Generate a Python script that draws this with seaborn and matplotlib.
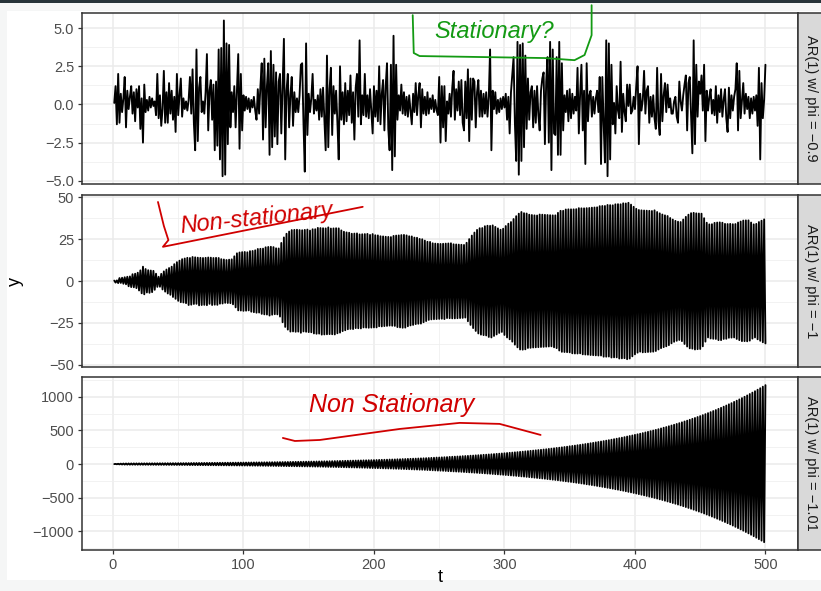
import numpy as np
import pandas as pd
import matplotlib
matplotlib.use("Agg")
import matplotlib.pyplot as plt
from matplotlib.patches import Rectangle
from matplotlib.ticker import FixedLocator, FuncFormatter
import seaborn as sns

# ---- data -------------------------------------------------------------
t = list(range(1, 501))

panel_labels = ["AR(1) w/ phi = \u22120.9", "AR(1) w/ phi = \u22121", "AR(1) w/ phi = \u22121.01"]

y_phi_09 = [
    0.1, 1.2, -1.3, 2.0, -1.2, 0.7, -0.5, 0.4, 1.8, -1.5,
    0.9, -0.3, 0.5, 1.2, -0.6, 0.8, -1.1, 1.0, -0.2, 1.2,
    -1.6, 0.4, -2.5, 1.3, -0.5, 0.3, -0.4, 0.5, -0.2, 0.4,
    -0.1, 0.2, -0.7, 2.0, -0.9, 0.6, -1.4, -0.3, 2.2, -1.2,
    0.8, -1.2, 1.4, -0.6, 0.9, -1.0, 0.5, -1.8, 2.0, -0.7,
    0.6, 1.7, -0.8, 0.4, -0.3, 0.2, -0.4, 0.3, 1.8, -0.6,
    2.3, -1.2, -3.0, 3.6, -2.4, 1.1, 1.8, -0.5, 0.2, -0.6,
    0.8, 3.3, -1.7, 0.9, 1.6, -1.0, 1.3, -3.0, 1.5, -2.7,
    3.6, -3.6, 3.7, -4.7, 5.5, -4.6, 4.0, -2.6, 3.9, -1.5,
    0.8, -0.5, 1.2, -1.5, 0.9, 3.3, -2.9, 2.0, -1.7, 0.6,
    -0.4, 0.5, -0.3, 0.4, -0.5, 0.3, -0.2, 0.5, -0.4, -1.0,
    1.0, -0.6, 1.2, 2.7, -2.3, 3.0, -1.5, 1.2, 2.7, -3.3,
    3.5, -2.8, 2.6, -2.1, 2.1, -2.6, 1.5, 2.0, -1.9, 1.2,
    4.3, -3.6, 0.9, 2.0, -1.5, 0.6, 1.8, -1.4, 0.8, -0.5,
    0.4, -0.5, 0.6, 2.6, 2.7, -1.2, -4.4, 4.0, -2.0, 0.7,
    -0.5, 0.4, 2.0, -0.6, 0.3, -0.4, 0.6, -1.0, 1.0, -0.8,
    1.1, -0.9, -3.0, 3.2, -2.8, 1.0, 2.4, -2.0, 1.2, -0.6,
    0.9, -1.2, -3.6, 2.5, -1.0, 0.8, -1.3, 1.4, -1.1, 0.9,
    -0.7, 1.9, -1.2, 0.8, -2.3, 1.1, 2.0, -0.8, 4.2, -1.3,
    0.6, -0.7, 2.0, -0.8, 0.6, -0.9, 1.0, -0.5, -1.9, 1.2,
    -0.8, 0.9, -1.1, 2.5, -1.3, 0.7, 1.6, -1.7, 1.2, 2.7,
    -1.6, -3.0, 2.6, -4.3, 4.5, -3.4, 2.6, -1.0, 0.6, -0.4,
    1.3, -0.6, 0.8, -0.7, 0.5, -0.8, 0.6, -0.4, -1.3, 0.7,
    -0.5, 1.4, -0.7, 0.6, 1.4, -1.5, 1.0, -0.6, 0.5, -0.7,
    0.8, -0.6, 0.4, -0.3, 0.6, -0.5, 0.3, -0.4, -0.7, 1.8,
    -2.5, 1.2, -1.5, 1.2, -2.4, 0.2, -0.6, 0.7, -0.8, 1.1,
    2.2, -1.0, 1.0, -0.4, 1.5, -0.7, 1.6, -1.2, -1.7, 1.5,
    -0.9, 2.3, -2.4, 1.7, -1.0, 1.7, 1.5, -1.5, 0.8, 1.6,
    -0.8, 0.9, -0.8, 0.7, -0.6, 0.8, -0.8, 0.5, 3.6, -3.0,
    0.9, -0.3, 0.8, -0.6, 0.3, -0.5, 0.4, -0.3, 0.5, -0.2,
    0.7, -1.0, 0.5, -1.9, 0.8, 2.0, 3.1, -1.2, -3.7, 4.1,
    -4.6, 3.9, -3.7, 4.0, -2.8, 3.2, -1.6, 1.7, -1.0, 0.8,
    1.2, -1.5, 0.9, -1.2, 1.2, -0.7, -1.7, 0.9, 1.7, 2.1,
    -2.6, 1.5, 3.1, -2.5, 4.1, -4.3, 3.6, -1.9, -2.0, 3.1,
    -3.3, 4.1, -3.3, 2.7, -1.7, 0.6, -0.5, 0.9, -1.1, 1.0,
    -0.9, 0.7, -0.6, 0.5, -0.4, 2.4, -1.9, 0.7, 2.6, -1.7,
    0.9, -3.9, 2.7, -1.1, 0.6, 0.9, -0.8, 0.5, -0.6, 0.4,
    0.9, -0.5, 1.8, -3.9, 1.8, -1.2, -3.8, 4.2, -4.7, 4.0,
    -3.6, 2.6, -1.3, 0.1, -1.9, 1.2, -0.4, -0.9, 2.8, -1.8,
    0.7, -0.5, -1.1, 1.3, -0.1, 1.3, -0.6, -0.4, 0.5, -0.3,
    1.2, 2.5, -2.6, 0.7, -0.4, 0.3, 2.2, -0.6, 0.9, 1.2,
    -1.2, 0.5, -0.8, 0.6, -0.9, -1.6, 2.4, -1.1, -2.0, 2.0,
    -1.1, 0.6, 1.4, -0.5, 1.3, -0.2, 0.4, -0.6, -0.6, 0.2,
    0.5, -0.8, -1.2, 1.5, 0.2, -0.4, 0.6, 1.3, 1.9, -1.7,
    1.4, 1.8, -0.7, -3.2, 4.2, -2.6, 2.6, -0.8, 1.5, 0.7,
    1.9, -0.4, 2.6, -2.4, 0.9, -0.4, 0.5, 1.0, -0.6, 0.3,
    -0.7, 1.2, -1.2, 0.6, -0.5, 1.0, -0.8, 0.3, 1.0, -0.9,
    -1.8, 1.1, -0.9, 0.6, -0.4, 0.5, 1.0, 2.7, -1.7, 2.2,
    -0.9, 0.3, 1.4, -0.6, 0.7, -0.3, 0.5, -0.9, 0.4, -0.6,
    0.5, -0.4, 0.6, -1.4, 2.4, -3.6, 1.4, -0.9, 0.3, 2.6,
]

y_phi_1 = [
    0.3, -0.9, 0.4, -1.2, 1.8, -1.1, 2.0, -1.6, 2.3, -1.9,
    2.6, -3.1, 2.8, -3.6, 4.1, -3.7, 4.4, -4.2, 5.0, -5.6,
    6.4, -7.3, 8.6, -7.9, 7.2, -6.8, 6.5, -7.0, 6.3, -6.6,
    6.1, -5.2, 4.4, -3.5, 2.6, -3.4, 4.3, -5.0, 5.8, -6.3,
    6.9, -7.4, 7.8, -8.2, 8.6, -9.5, 10.1, -10.6, 11.3, -11.8,
    12.2, -12.6, 13.1, -12.8, 13.5, -13.2, 13.9, -14.3, 13.8, -14.1,
    14.4, -13.7, 14.2, -13.6, 14.0, -14.5, 13.9, -14.3, 13.8, -14.2,
    13.9, -14.4, 14.1, -13.6, 14.0, -14.3, 13.8, -14.1, 13.9, -14.2,
    13.8, -13.5, 13.1, -13.4, 12.9, -13.0, 12.6, -13.1, 12.8, -13.2,
    13.0, -13.9, 14.8, -15.7, 16.6, -17.5, 17.1, -17.6, 17.3, -17.8,
    17.4, -17.7, 17.2, -17.5, 17.9, -18.3, 18.0, -18.6, 18.4, -18.9,
    19.2, -18.8, 19.3, -19.6, 19.4, -19.9, 20.2, -20.0, 20.4, -20.6,
    20.5, -20.1, 20.3, -19.8, 19.6, -19.9, 19.5, -21.2, 22.8, -24.6,
    26.1, -27.4, 28.3, -29.0, 29.6, -30.2, 30.5, -30.1, 30.6, -30.3,
    30.7, -30.2, 30.5, -30.9, 30.4, -30.1, 30.6, -30.3, 30.8, -30.5,
    30.2, -30.6, 31.0, -31.3, 31.0, -31.5, 31.8, -31.4, 31.7, -32.0,
    31.6, -31.9, 31.5, -31.8, 32.1, -31.7, 31.4, -31.8, 31.5, -31.9,
    31.6, -31.2, 31.5, -30.8, 30.3, -29.9, 29.5, -29.4, 29.1, -28.8,
    28.9, -28.6, 28.3, -28.7, 28.4, -28.1, 28.5, -28.2, 27.9, -28.3,
    28.0, -27.7, 28.1, -27.8, 28.2, -27.9, 27.6, -27.8, 28.1, -27.7,
    27.4, -27.7, 27.3, -27.0, 26.8, -27.1, 26.7, -26.9, 26.5, -26.8,
    26.4, -26.6, 26.3, -26.7, 27.0, -26.8, 27.2, -27.5, 27.3, -27.7,
    27.5, -27.9, 27.6, -27.8, 27.3, -27.0, 26.8, -26.5, 26.7, -26.2,
    26.0, -25.7, 25.9, -25.5, 25.2, -25.4, 25.0, -24.6, 24.2, -23.9,
    23.5, -23.2, 23.4, -22.9, 22.6, -22.8, 22.4, -22.7, 22.3, -22.6,
    22.2, -22.5, 22.3, -22.7, 22.4, -22.1, 22.5, -22.2, 22.6, -22.3,
    22.0, -22.3, 21.9, -22.2, 21.8, -22.1, 21.7, -22.0, 21.6, -21.8,
    22.9, -24.0, 25.1, -26.2, 27.2, -28.1, 29.0, -29.8, 30.6, -31.3,
    31.6, -32.0, 31.7, -32.3, 32.8, -32.5, 33.1, -33.4, 33.0, -33.7,
    33.3, -32.8, 32.4, -31.9, 31.5, -31.0, 30.7, -30.4, 31.3, -32.2,
    32.9, -33.7, 34.3, -34.8, 35.3, -36.2, 37.1, -38.0, 38.8, -39.6,
    40.3, -40.9, 41.3, -41.0, 40.6, -40.8, 40.4, -40.0, 39.7, -39.9,
    39.5, -39.7, 39.3, -39.6, 39.2, -39.5, 39.8, -39.4, 39.7, -39.3,
    39.6, -39.2, 39.5, -39.1, 39.4, -39.0, 39.3, -39.6, 39.3, -40.1,
    40.8, -41.5, 42.0, -42.3, 42.0, -42.4, 42.8, -42.5, 42.9, -42.6,
    42.9, -43.2, 42.9, -43.3, 43.0, -43.3, 43.6, -43.2, 43.5, -43.8,
    43.5, -43.9, 43.6, -44.0, 43.7, -44.2, 43.9, -44.3, 44.0, -44.4,
    44.1, -44.5, 44.8, -44.5, 44.9, -45.2, 44.9, -45.2, 45.5, -45.1,
    45.4, -45.7, 45.3, -45.6, 45.9, -45.6, 46.0, -46.3, 45.9, -46.2,
    46.5, -46.1, 46.4, -46.7, 46.8, -46.3, 45.7, -45.0, 44.4, -43.8,
    43.2, -42.8, 42.5, -42.2, 42.3, -42.6, 42.2, -42.5, 42.1, -42.4,
    42.0, -42.3, 41.9, -42.2, 42.3, -41.8, 41.3, -40.9, 40.5, -40.1,
    39.8, -39.5, 39.3, -39.0, 38.9, -38.3, 37.7, -37.2, 36.8, -36.3,
    36.0, -35.7, 35.5, -35.2, 35.3, -35.9, 36.8, -37.6, 38.4, -39.1,
    39.7, -40.2, 40.6, -40.4, 40.8, -40.9, 40.5, -40.7, 40.4, -40.6,
    40.3, -39.0, 37.6, -36.2, 34.9, -33.7, 33.9, -34.3, 34.0, -34.5,
    34.8, -34.6, 35.0, -35.3, 35.1, -35.3, 34.9, -34.6, 34.2, -34.5,
    34.1, -33.9, 34.2, -33.8, 34.0, -33.7, 34.1, -34.6, 35.0, -35.3,
    35.6, -35.9, 36.2, -35.9, 36.3, -36.0, 36.3, -35.6, 35.0, -34.4,
    33.9, -33.7, 34.2, -34.8, 35.3, -35.7, 36.1, -36.6, 36.9, -37.3,
]

y_phi_101 = [
    -0.6, 1.8, -2.9, 4.1, -5.2, 6.0, -6.9, 7.5, -8.0, 8.4,
    -8.6, 8.9, -9.1, 9.2, -9.4, 9.5, -9.6, 9.7, -9.8, 9.9,
    -10.0, 10.1, -10.2, 10.3, -10.4, 10.5, -10.6, 10.7, -10.8, 10.9,
    -11.0, 11.1, -11.3, 11.4, -11.5, 11.6, -11.7, 11.8, -11.9, 12.1,
    -12.2, 12.3, -12.4, 12.5, -12.7, 12.8, -12.9, 13.1, -13.2, 13.3,
    -13.5, 13.6, -13.7, 13.9, -14.0, 14.1, -14.3, 14.4, -14.6, 14.7,
    -14.9, 15.0, -15.2, 15.3, -15.5, 15.6, -15.8, 15.9, -16.1, 16.3,
    -16.4, 16.6, -16.8, 16.9, -17.1, 17.3, -17.4, 17.6, -17.8, 18.0,
    -18.1, 18.3, -18.5, 18.7, -18.9, 19.1, -19.3, 19.5, -19.6, 19.8,
    -20.0, 20.2, -20.4, 20.6, -20.8, 21.1, -21.3, 21.5, -21.7, 21.9,
    -22.1, 22.4, -22.6, 22.8, -23.0, 23.3, -23.5, 23.7, -24.0, 24.2,
    -24.4, 24.7, -24.9, 25.2, -25.4, 25.7, -25.9, 26.2, -26.5, 26.7,
    -27.0, 27.3, -27.5, 27.8, -28.1, 28.4, -28.7, 29.0, -29.2, 29.5,
    -29.8, 30.1, -30.4, 30.7, -31.0, 31.4, -31.7, 32.0, -32.3, 32.6,
    -32.9, 33.3, -33.6, 33.9, -34.3, 34.6, -35.0, 35.3, -35.7, 36.0,
    -36, 37, -37, 37, -38, 38, -38, 39, -39, 40,
    -40, 41, -41, 41, -42, 42, -43, 43, -43, 44,
    -44, 45, -45, 46, -46, 47, -47, 48, -48, 49,
    -49, 50, -50, 51, -51, 52, -52, 53, -53, 54,
    -54, 55, -55, 56, -56, 57, -58, 58, -59, 59,
    -60, 60, -61, 62, -62, 63, -64, 64, -65, 65,
    -66, 67, -67, 68, -69, 69, -70, 71, -71, 72,
    -73, 74, -74, 75, -76, 77, -77, 78, -79, 80,
    -81, 81, -82, 83, -84, 85, -85, 86, -87, 88,
    -89, 90, -91, 92, -93, 94, -95, 96, -97, 97,
    -98, 99, -100, 101, -102, 103, -105, 106, -107, 108,
    -109, 110, -111, 112, -113, 114, -115, 117, -118, 119,
    -120, 121, -123, 124, -125, 126, -128, 129, -130, 131,
    -133, 134, -135, 137, -138, 139, -141, 142, -144, 145,
    -147, 148, -150, 151, -153, 154, -156, 157, -159, 160,
    -162, 164, -165, 167, -169, 170, -172, 174, -175, 177,
    -179, 181, -183, 184, -186, 188, -190, 192, -194, 196,
    -198, 200, -202, 204, -206, 208, -210, 212, -214, 216,
    -218, 220, -223, 225, -227, 229, -232, 234, -236, 239,
    -241, 243, -246, 248, -251, 253, -256, 258, -261, 264,
    -266, 269, -271, 274, -277, 280, -282, 285, -288, 291,
    -294, 297, -300, 303, -306, 309, -312, 315, -318, 322,
    -325, 328, -331, 335, -338, 341, -345, 348, -352, 355,
    -359, 362, -366, 370, -374, 377, -381, 385, -389, 392,
    -396, 400, -404, 409, -413, 417, -421, 425, -429, 434,
    -438, 442, -447, 451, -456, 460, -465, 470, -474, 479,
    -484, 489, -493, 498, -503, 508, -513, 518, -524, 529,
    -534, 540, -545, 550, -556, 562, -567, 573, -579, 584,
    -590, 596, -602, 608, -614, 620, -626, 633, -639, 645,
    -652, 658, -665, 672, -678, 685, -692, 699, -706, 713,
    -720, 727, -735, 742, -750, 757, -765, 772, -780, 788,
    -796, 803, -812, 820, -828, 836, -845, 853, -862, 870,
    -879, 888, -896, 905, -914, 924, -933, 942, -952, 961,
    -971, 980, -990, 1000, -1010, 1020, -1030, 1041, -1051, 1062,
    -1072, 1083, -1094, 1105, -1116, 1127, -1138, 1150, -1161, 1173,
]

y_major = [
    [-5.0, -2.5, 0.0, 2.5, 5.0],
    [-50, -25, 0, 25, 50],
    [-1000, -500, 0, 500, 1000],
]
y_fmt = ["{:.1f}", "{:.0f}", "{:.0f}"]
x_major = [0, 100, 200, 300, 400, 500]

# ---- figure -----------------------------------------------------------
sns.set_theme(style="white")
plt.rcParams["font.family"] = ["Liberation Sans", "DejaVu Sans"]

W, H = 821, 591
fig = plt.figure(figsize=(W / 100, H / 100), dpi=100)
fig.patch.set_facecolor("#F5F6F6")
fig.patches.append(Rectangle((7 / W, 1 - 580 / H), 1, (580 - 10.7) / H,
                             transform=fig.transFigure, facecolor="white",
                             edgecolor="none", zorder=-5))
fig.patches.append(Rectangle((0, 1 - 2.7 / H), 1, 2.7 / H,
                             transform=fig.transFigure, facecolor="#263238",
                             edgecolor="none", zorder=-5))

left, right = 81.7, 798.0
panel_rows = [(12.7, 184.0), (195.0, 367.0), (377.3, 550.0)]

df = pd.DataFrame({
    "t": t * 3,
    "y": y_phi_09 + y_phi_1 + y_phi_101,
    "panel": sum([[lab] * len(t) for lab in panel_labels], []),
})

axes = []
for i, (top, bot) in enumerate(panel_rows):
    ax = fig.add_axes([left / W, 1 - bot / H, (right - left) / W, (bot - top) / H])
    axes.append(ax)
    sub = df[df["panel"] == panel_labels[i]]
    sns.lineplot(data=sub, x="t", y="y", ax=ax, color="black", lw=1.35,
                 estimator=None, sort=False, legend=False)

    ax.set_xlim(-23.95, 524.95)
    lo, hi = sub["y"].min(), sub["y"].max()
    pad = 0.05 * (hi - lo)
    ax.set_ylim(lo - pad, hi + pad)

    maj = y_major[i]
    step = maj[1] - maj[0]
    minors = [m + step / 2 for m in [maj[0] - step] + maj]
    ax.yaxis.set_major_locator(FixedLocator(maj))
    ax.yaxis.set_minor_locator(FixedLocator(minors))
    ax.xaxis.set_major_locator(FixedLocator(x_major))
    ax.xaxis.set_minor_locator(FixedLocator([50, 150, 250, 350, 450]))
    fmt = y_fmt[i]
    ax.yaxis.set_major_formatter(FuncFormatter(
        lambda v, p, f=fmt: f.format(v).replace("-", "\u2212")))

    ax.set_axisbelow(True)
    ax.grid(which="major", color="#EBEBEB", lw=1.1)
    ax.grid(which="minor", color="#EFEFEF", lw=0.55)
    for s in ax.spines.values():
        s.set_color("#333333")
        s.set_linewidth(1.1)
    ax.tick_params(axis="y", which="major", left=True, length=3.0, width=0.9,
                   color="#333333", labelsize=10.5, labelcolor="#4D4D4D", pad=2.5)
    ax.tick_params(which="minor", length=0)
    if i < 2:
        ax.tick_params(axis="x", which="major", bottom=False, labelbottom=False)
    else:
        ax.tick_params(axis="x", which="major", bottom=True, length=3.0, width=0.9,
                       color="#333333", labelsize=10.5, labelcolor="#4D4D4D", pad=3.0)
    ax.set_xlabel("")
    ax.set_ylabel("")

    # facet strip on the right
    fig.patches.append(Rectangle((right / W, 1 - bot / H), 30 / W, (bot - top) / H,
                                 transform=fig.transFigure, facecolor="#D9D9D9",
                                 edgecolor="#333333", lw=1.1, zorder=2))
    fig.text(810.5 / W, 1 - (top + bot) / 2 / H, panel_labels[i], rotation=-90,
             ha="center", va="center", fontsize=10.5, color="#1A1A1A")

fig.text(15 / W, 1 - 282 / H, "y", rotation=90, ha="center", va="center",
         fontsize=13, color="black")
fig.text(440 / W, 1 - 577 / H, "t", ha="center", va="center",
         fontsize=13, color="black")

# ---- hand-drawn notes -------------------------------------------------
green = "#139A13"
red = "#D00000"
a0, a1, a2 = axes

a0.plot([229.7, 230.5, 235, 330.8, 353.7, 361.4, 366.8, 366.8],
        [5.85, 3.37, 3.17, 3.04, 2.9, 3.24, 4.54, 6.5],
        color=green, lw=1.3, clip_on=False, zorder=5, solid_capstyle="round")
a0.text(292, 4.75, "Stationary?", color=green, fontsize=17, style="italic",
        ha="center", va="center", zorder=5)

a1.plot([34.5, 39, 42.5, 38.3, 191.4], [47.3, 33, 24.5, 20.5, 44.4],
        color=red, lw=1.3, clip_on=False, zorder=5, solid_capstyle="round")
a1.text(110, 37.5, "Non-stationary", color=red, fontsize=17, style="italic",
        ha="center", va="center", rotation=6, rotation_mode="anchor", zorder=5)

a2.plot([130.2, 139.4, 158.5, 219.8, 265.7, 296.3, 327.7],
        [388, 343, 358, 522, 612, 597, 433],
        color=red, lw=1.3, clip_on=False, zorder=5, solid_capstyle="round")
a2.text(213.6, 880, "Non Stationary", color=red, fontsize=18, style="italic",
        ha="center", va="center", zorder=5)

fig.savefig("out.png", dpi=100, facecolor=fig.get_facecolor())
